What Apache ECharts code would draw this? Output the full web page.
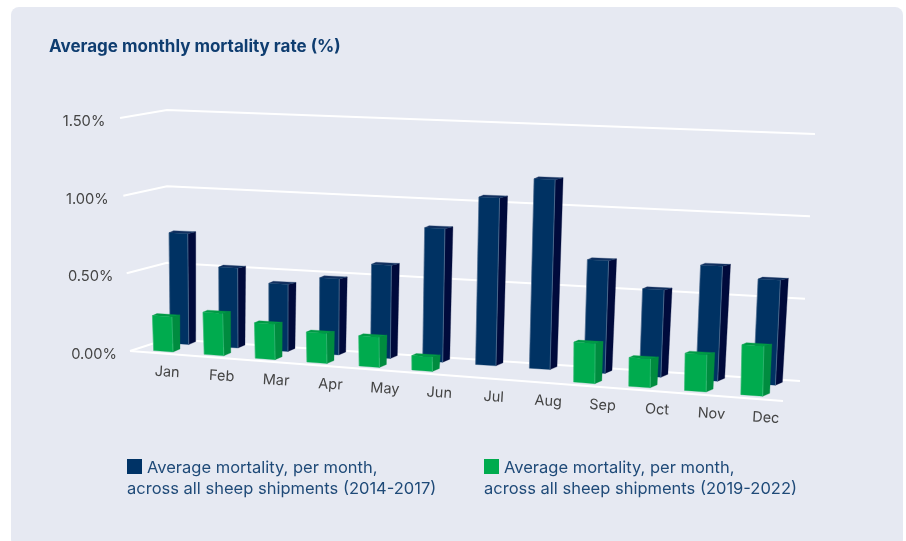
<!DOCTYPE html>
<html><head><meta charset="utf-8">
<style>html,body{margin:0;padding:0;background:#fff}#c{width:906px;height:541px}</style>
<script src="https://cdn.jsdelivr.net/npm/echarts@6/dist/echarts.min.js"></script>
</head><body><div id="c"></div>
<script>
const titleText = 'Average monthly mortality rate (%)';
const months = ['Jan','Feb','Mar','Apr','May','Jun','Jul','Aug','Sep','Oct','Nov','Dec'];
const tickValues = [0, 0.5, 1, 1.5];
const tickLabels = ['0.00%','0.50%','1.00%','1.50%'];
const navyName = 'Average mortality, per month,\nacross all sheep shipments (2014-2017)';
const greenName = 'Average mortality, per month,\nacross all sheep shipments (2019-2022)';
const navyValues = [0.72,0.515,0.43,0.485,0.59,0.84,1.05,1.18,0.695,0.535,0.70,0.635];
const greenValues = [0.225,0.27,0.225,0.19,0.19,0.09,null,null,0.245,0.175,0.225,0.30];

const C = {
  FLb:[130,351], FLt:[120,118], FRb:[783,401], FRt:[788,149],
  BLb:[167,339], BLt:[167,110], BRb:[800,381], BRt:[815,134]
};
const lerp = (a,b,t)=>[a[0]+(b[0]-a[0])*t, a[1]+(b[1]-a[1])*t];
function project(u,v,d,r){
  const t = u/(u+(1-u)*r);
  const fb = lerp(C.FLb,C.FRb,t), ft = lerp(C.FLt,C.FRt,t);
  const bb = lerp(C.BLb,C.BRb,t), bt = lerp(C.BLt,C.BRt,t);
  return lerp(lerp(fb,ft,v), lerp(bb,bt,v), d);
}
function norm(params, api, cat, val){
  const p = api.coord([cat,val]), cs = params.coordSys;
  return {u:(p[0]-cs.x)/cs.width, v:(cs.y+cs.height-p[1])/cs.height, bw:api.size([1,0])[0]/cs.width};
}
const off=(p,dx,dy)=>[p[0]+dx,p[1]+dy];
function barRenderer(d0,colors,shift,scale,r){
  return function(params,api){
    const val = api.value(1);
    if (val==null || isNaN(val)) return null;
    const n = norm(params,api,api.value(0),val);
    const hw = n.bw*0.19, uc = 0.5+(n.u-0.5)*scale + n.bw*shift;
    const bl=project(uc-hw,0,d0,r), br=project(uc+hw,0,d0,r), tl=project(uc-hw,n.v,d0,r), tr=project(uc+hw,n.v,d0,r);
    const poly = (pts,fill)=>({type:'polygon',shape:{points:pts},style:{fill:fill,stroke:fill,lineWidth:0.3}});
    const brb=off(br,7,-3), trb=off(tr,8,-2), tlb=off(tl,4.5,-2);
    return {type:'group',children:[
      poly([br,tr,trb,brb],colors[1]),
      poly([tl,tr,trb,tlb],colors[2]),
      poly([bl,br,tr,tl],colors[0]),
      {type:'line',shape:{x1:br[0],y1:br[1],x2:tr[0],y2:tr[1]},style:{stroke:colors[3],lineWidth:0.7}},
      {type:'line',shape:{x1:bl[0],y1:bl[1],x2:tl[0],y2:tl[1]},style:{stroke:colors[3],lineWidth:0.5}}
    ]};
  };
}
function gridRenderer(params,api){
  const n = norm(params,api,0,api.value(1));
  const a=project(0,n.v,0,1), b=project(0,n.v,1,1), c=project(1,n.v,1,1);
  const kids=[{type:'polyline',shape:{points:[a,b,c]},style:{fill:'none',stroke:'#fff',lineWidth:2}}];
  if(n.v===0){ kids.push({type:'line',shape:{x1:a[0],y1:a[1],x2:C.FRb[0],y2:C.FRb[1]},style:{stroke:'#fff',lineWidth:2}}); }
  kids.push({type:'text',style:{text:tickLabels[params.dataIndex],x:a[0]-36,y:a[1]+3.5,align:'center',verticalAlign:'middle',
    fill:'#444',font:'14.7px Inter'}});
  return {type:'group',children:kids};
}
function monthRenderer(params,api){
  const n = norm(params,api,api.value(0),0);
  const p = lerp(C.FLb,C.FRb,n.u);
  return {type:'text',x:p[0]+10,y:p[1]+19,rotation:-0.06,style:{text:months[params.dataIndex],x:0,y:0,align:'center',verticalAlign:'middle',fill:'#444',font:'14.5px Inter'}};
}
const legendStyle = {fill:'#1f4a78',font:'16.5px Inter'};
function legendItem(name,color,x){
  const lines = name.split('\n');
  return [
    {type:'rect',left:x,top:459,shape:{width:15,height:15},style:{fill:color}},
    {type:'text',left:x+20,top:460,style:Object.assign({text:lines[0]},legendStyle)},
    {type:'text',left:x,top:481,style:Object.assign({text:lines[1]},legendStyle)}
  ];
}
const chart = echarts.init(document.getElementById('c'),null,{renderer:'canvas'});
chart.setOption({
  animation:false,
  backgroundColor:'#fff',
  title:{text:titleText,left:44,top:33,textStyle:{color:'#0f3d70',fontFamily:'Inter',fontWeight:'bold',fontSize:17}},
  grid:{left:0,right:0,top:0,bottom:0},
  xAxis:{type:'category',data:months,show:false},
  yAxis:{type:'value',min:0,max:1.5,interval:0.5,show:false},
  graphic:{elements:[
    {type:'rect',left:11,top:7,z:-10,shape:{width:892,height:540,r:8},style:{fill:'#e6e9f2'}}
  ].concat(legendItem(navyName,'#003366',127),legendItem(greenName,'#00ab4e',484))},
  series:[
    {type:'custom',name:'grid',z:1,renderItem:gridRenderer,data:tickValues.map(v=>[0,v]),silent:true},
    {type:'custom',name:'months',z:1,renderItem:monthRenderer,data:months.map((m,i)=>[i,0]),silent:true},
    {type:'custom',name:navyName,z:2,renderItem:barRenderer(0.72,['#003263','#000a3b','#12305f','#5a7596'],-0.03,1,1.10),data:navyValues.map((v,i)=>[i,v])},
    {type:'custom',name:greenName,z:3,renderItem:barRenderer(0.15,['#00ab4e','#008c3f','#009a45','#3cc07a'],-0.02,0.988,1.068),data:greenValues.map((v,i)=>[i,v])}
  ]
});
</script></body></html>
